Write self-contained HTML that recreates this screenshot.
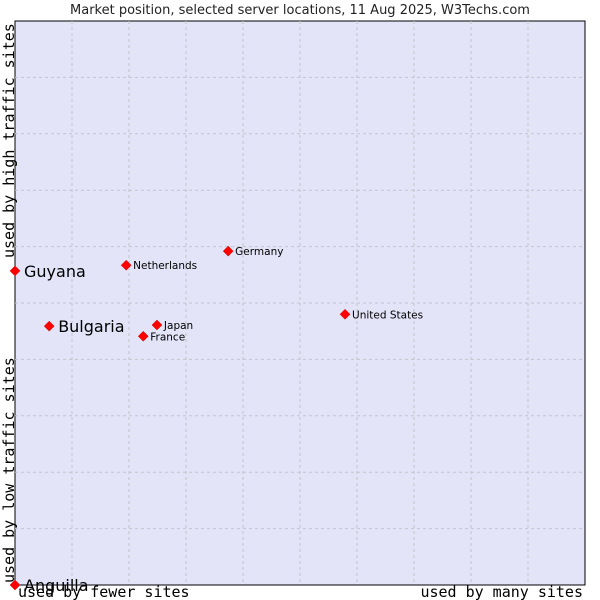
<!DOCTYPE html>
<html><head><meta charset="utf-8"><style>
html,body{margin:0;padding:0;background:#fff;width:600px;height:600px;overflow:hidden}
</style></head><body>
<svg id="chart" width="600" height="600" xmlns="http://www.w3.org/2000/svg">
<text x="300" y="14" text-anchor="middle" font-family="DejaVu Sans, sans-serif" font-size="13" fill="#222">Market position, selected server locations, 11 Aug 2025, W3Techs.com</text>
<rect x="15" y="21" width="570" height="564" fill="#e3e4f8" stroke="#000" stroke-width="1"/>
<g id="grid"></g>
<g id="points"></g>
<text x="18" y="597" font-family="DejaVu Sans Mono, monospace" font-size="15" fill="#000">used by fewer sites</text>
<text x="583" y="597" text-anchor="end" font-family="DejaVu Sans Mono, monospace" font-size="15" fill="#000">used by many sites</text>
<text transform="translate(14,583) rotate(-90)" font-family="DejaVu Sans Mono, monospace" font-size="15" fill="#000">used by low traffic sites</text>
<text transform="translate(14,258) rotate(-90)" font-family="DejaVu Sans Mono, monospace" font-size="15" fill="#000">used by high traffic sites</text>
</svg>
<script>
const names = ["Guyana","Bulgaria","Netherlands","Germany","Japan","France","United States","Anguilla"];
const xVals = [0, 6.0, 19.5, 37.4, 24.9, 22.5, 57.9, 0];
const yVals = [55.7, 45.9, 56.7, 59.2, 46.1, 44.1, 48.0, 0];
const bigLabel = [true, true, false, false, false, false, false, true];
const gridSteps = [10,20,30,40,50,60,70,80,90];
const L=15,T=21,W=570,H=564;
const sx=v=>L+v/100*W, sy=v=>T+H-v/100*H;
const NS="http://www.w3.org/2000/svg";
const grid=document.getElementById('grid'), pts=document.getElementById('points');
gridSteps.forEach((g,i)=>{
  const v=document.createElementNS(NS,'line');
  
  
  v.setAttribute('x1',sx(g));v.setAttribute('x2',sx(g));v.setAttribute('y1',T);v.setAttribute('y2',T+H);
  v.setAttribute('stroke','#c4c4c8');v.setAttribute('stroke-dasharray','3,3');
  grid.appendChild(v);
  const h=document.createElementNS(NS,'line');
  
  
  h.setAttribute('y1',sy(g));h.setAttribute('y2',sy(g));h.setAttribute('x1',L);h.setAttribute('x2',L+W);
  h.setAttribute('stroke','#c4c4c8');h.setAttribute('stroke-dasharray','3,3');
  grid.appendChild(h);
});
names.forEach((n,i)=>{
  const x=sx(xVals[i]), y=sy(yVals[i]);
  const d=document.createElementNS(NS,'path');
  
  
  d.setAttribute('d',`M${x} ${y-5}L${x+5} ${y}L${x} ${y+5}L${x-5} ${y}Z`);
  d.setAttribute('fill','#f00');
  d.setAttribute('stroke','#c00');
  d.setAttribute('stroke-width','0.5');
  pts.appendChild(d);
  const t=document.createElementNS(NS,'text');
  
  
  t.setAttribute('x',x+(bigLabel[i]?9:7));
  t.setAttribute('y',y+(bigLabel[i]?6:4));
  t.setAttribute('font-family','DejaVu Sans, sans-serif');
  t.setAttribute('font-size',bigLabel[i]?16:10.5);
  t.setAttribute('fill','#000');
  t.textContent=n;
  pts.appendChild(t);
});
</script>
</body></html>
